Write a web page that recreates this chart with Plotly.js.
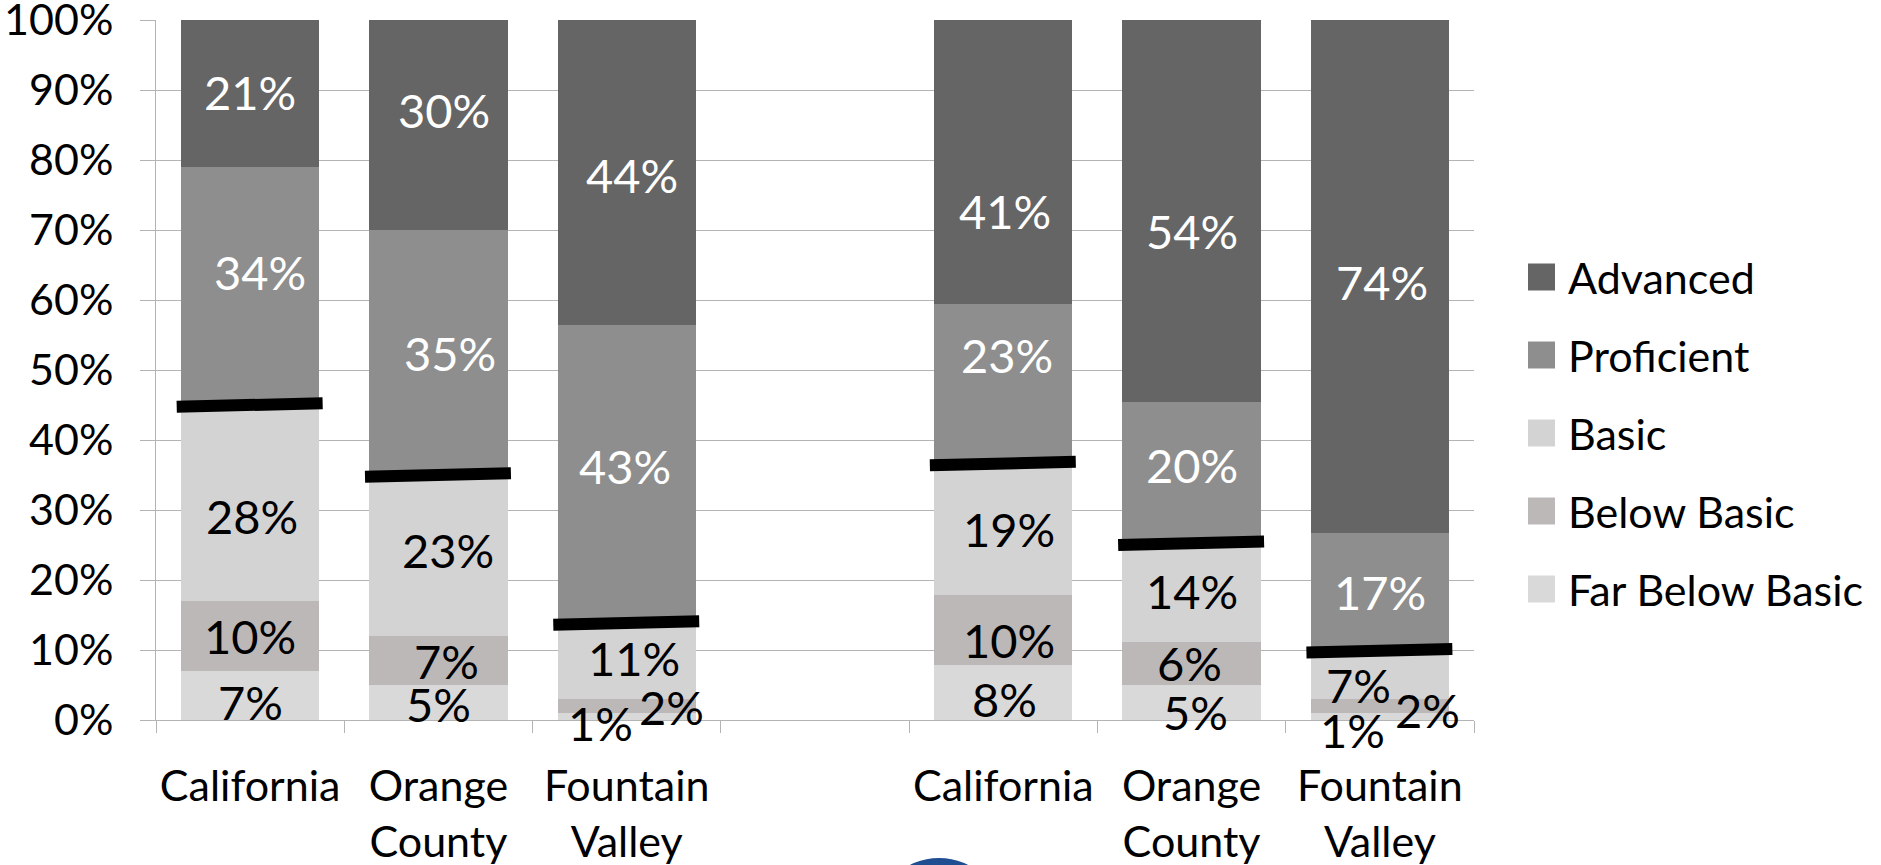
<!DOCTYPE html>
<html><head><meta charset="utf-8">
<script src="https://cdn.plot.ly/plotly-3.0.1.min.js"></script>
<style>html,body{margin:0;padding:0;background:#fff}#chart{width:1881px;height:865px}</style>
</head><body><div id="chart"></div>
<script>
// ---- data ----
const categories = ["California", "Orange<br>County", "Fountain<br>Valley", " ",
                    "California\u200b", "Orange<br>County\u200b", "Fountain<br>Valley\u200b"];
const seriesNames = ["Far Below Basic", "Below Basic", "Basic", "Proficient", "Advanced"];
const farBelowBasic = [7, 5, 1, null, 8, 5, 1];
const belowBasic    = [10, 7, 2, null, 10, 6, 2];
const basic         = [28, 23, 11, null, 19, 14, 7];
const proficient    = [34, 35, 43, null, 23, 20, 17];
const advanced      = [21, 30, 44, null, 41, 54, 74];
const yTickVals = [0, 10, 20, 30, 40, 50, 60, 70, 80, 90, 100];
const yTickText = ["0%", "10%", "20%", "30%", "40%", "50%", "60%", "70%", "80%", "90%", "100%"];

// ---- style ----
const FONT = "Lato, 'Open Sans', sans-serif";
const colors = ["#d9d9d9", "#bcb8b8", "#d3d3d3", "#8e8e8e", "#656565"];
const textColors = ["#000", "#000", "#000", "#fff", "#fff"];
const LABEL_SIZE = 47, TICK_SIZE = 43;
const W = 1881, H = 865;
const M = {l: 156, r: 407, t: 20, b: 145};
const PW = W - M.l - M.r, PH = H - M.t - M.b;
const pxX = p => (p - M.l) / PW;
const pxY = p => (H - M.b - p) / PH;

// label nudges in pixels [dx, dy(down)] per series, per category (as placed in the original)
const labelNudge = [
  [[0, 6], [0, 1], [-26, 6], null, [1, 7], [4, 10], [-27, 13]],      // Far Below Basic
  [[0, 0], [8, 0], [45, 1], null, [6, 10], [-2, 0], [48, 4]],        // Below Basic
  [[2, 13], [10, -6], [7, -3], null, [6, 0], [0, -2], [-21, 10]],    // Basic
  [[10, -14], [12, 0], [-2, -8], null, [4, -29], [0, -8], [0, 0]],   // Proficient
  [[0, -2], [6, -15], [5, 3], null, [2, 49], [0, 20], [2, 6]]        // Advanced
];

const series = [farBelowBasic, belowBasic, basic, proficient, advanced];

const traces = series.map((vals, s) => ({
  type: "bar",
  name: seriesNames[s],
  x: categories,
  y: vals,
  marker: {color: colors[s], line: {width: 0}},
  showlegend: false,
  hoverinfo: "name+y"
}));

const shapes = [];
const annotations = [];

// thick black "proficient" threshold lines and segment labels
categories.forEach((c, i) => {
  if (farBelowBasic[i] === null) return;
  const total = series.reduce((a, arr) => a + arr[i], 0);
  const norm = v => v / total * 100;
  const thr = norm(farBelowBasic[i] + belowBasic[i] + basic[i]);
  shapes.push({type: "line", xref: "x", yref: "y", layer: "above",
    x0: i - 0.39, x1: i + 0.385, y0: thr - 0.25, y1: thr + 0.25,
    line: {color: "#000", width: 12}});
  let cum = 0;
  series.forEach((arr, s) => {
    const v = arr[i];
    const mid = norm(cum + v / 2);
    cum += v;
    const nd = labelNudge[s][i];
    annotations.push({xref: "x", yref: "y", x: i, y: mid, showarrow: false,
      text: v + "%", xshift: nd[0], yshift: -nd[1],
      xanchor: "center", yanchor: "middle",
      font: {family: FONT, size: LABEL_SIZE, color: textColors[s]}});
  });
});

// custom legend (top to bottom: Advanced ... Far Below Basic)
const legendRowsPx = [277, 355, 433, 511, 589];
for (let k = 0; k < seriesNames.length; k++) {
  const s = seriesNames.length - 1 - k;
  const cy = legendRowsPx[k];
  shapes.push({type: "rect", xref: "paper", yref: "paper", layer: "above",
    x0: pxX(1528), x1: pxX(1555), y0: pxY(cy + 13.5), y1: pxY(cy - 13.5),
    fillcolor: colors[s], line: {width: 0}});
  annotations.push({xref: "paper", yref: "paper", x: pxX(1566), y: pxY(cy),
    xanchor: "left", yanchor: "middle", showarrow: false, text: seriesNames[s],
    font: {family: FONT, size: TICK_SIZE, color: "#000"}});
}

// partial logo at bottom edge
shapes.push({type: "circle", xref: "paper", yref: "paper", layer: "above",
  x0: pxX(875), x1: pxX(1003), y0: pxY(986), y1: pxY(858),
  fillcolor: "#1f4e91", line: {width: 0}});

const layout = {
  width: W, height: H,
  margin: M,
  paper_bgcolor: "#fff", plot_bgcolor: "#fff",
  barmode: "stack",
  barnorm: "percent",
  bargap: 0.265,
  font: {family: FONT, color: "#000"},
  xaxis: {
    type: "category",
    categoryorder: "array", categoryarray: categories,
    tickson: "boundaries",
    ticks: "outside", ticklen: 12, tickcolor: "#b4b4b4", tickwidth: 1,
    showline: true, linecolor: "#b4b4b4", linewidth: 1,
    showgrid: false, tickangle: 0,
    tickfont: {family: FONT, size: TICK_SIZE, color: "#000"},
    ticklabelstandoff: 28,
    fixedrange: true
  },
  yaxis: {
    range: [0, 100],
    tickmode: "array", tickvals: yTickVals, ticktext: yTickText,
    ticks: "outside", ticklen: 15, tickcolor: "#b4b4b4", tickwidth: 1,
    showline: true, linecolor: "#b4b4b4", linewidth: 1,
    showgrid: true, gridcolor: "#b4b4b4", gridwidth: 1,
    zeroline: false,
    tickfont: {family: FONT, size: TICK_SIZE, color: "#000"},
    ticklabelstandoff: 18,
    ticklabeloverflow: "allow",
    fixedrange: true
  },
  shapes: shapes,
  annotations: annotations,
  showlegend: false
};

Plotly.newPlot("chart", traces, layout, {displayModeBar: false, staticPlot: true});
</script>
</body></html>
